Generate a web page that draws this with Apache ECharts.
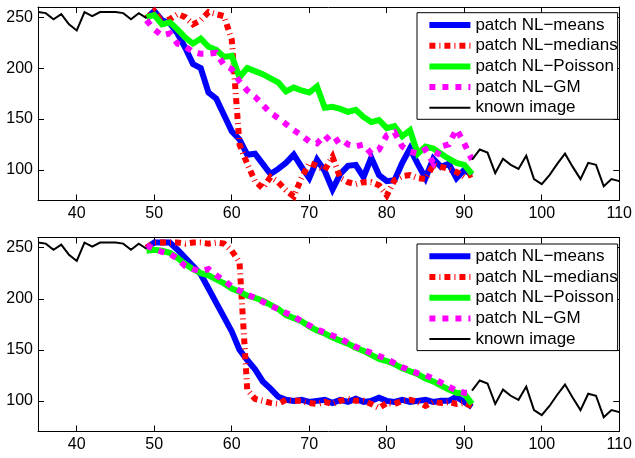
<!DOCTYPE html>
<html><head><meta charset="utf-8">
<script src="https://cdn.jsdelivr.net/npm/echarts@6/dist/echarts.min.js"></script>
<style>html,body{margin:0;padding:0;background:#fff}#c{width:635px;height:458px}</style>
</head><body><div id="c"></div>
<script>
// ---------- data ----------
const xMethods = [49,50,51,52,53,54,55,56,57,58,59,60,61,62,63,64,65,66,67,68,69,70,71,72,73,74,75,76,77,78,79,80,81,82,83,84,85,86,87,88,89,90,91];

const meansTop    = [249,256,247,244,234,220,204,200,176,170,154,138,130,115,116,106,96,101,107,115,103,92,110,99,81,96,104,105,93,112,95,89,90,107,121,106,92,111,103,106,92,100,95];
const mediansTop  = [249,256,245,248,253,250,243,247,255,253,251,228,125,106,89,82,93,88,80,74,92,107,104,100,113,92,88,86,88,88,85,75,90,94,95,92,91,105,103,101,98,93,96];
const poissonTop  = [250,252,243,245,238,230,224,229,221,218,211,212,191,200,197,194,190,186,177,181,178,176,182,161,162,160,157,159,152,147,149,141,143,133,139,116,123,121,116,111,107,105,96];
const gmTop       = [247,238,232,234,224,221,216,214,214,215,203,199,187,178,172,164,156,151,145,139,134,128,126,134,126,131,125,123,125,116,120,134,137,123,118,116,120,107,123,125,140,126,110];

const meansBot    = [250,255,255,255,248,240,232,224,210,196,182,168,150,140,131,119,112,104,101,100,101,99,100,101,98,101,99,102,99,100,103,100,99,101,99,100,101,99,100,100,104,99,94];
const mediansBot  = [250,255,255,255,255,254,255,255,254,255,254,247,236,111,102,100,98,97,101,100,100,98,97,99,97,100,102,100,100,97,93,98,97,100,101,99,95,99,98,99,97,98,95];
const poissonBot  = [247,248,247,245,240,234,229,225,223,219,215,210,207,203,201,198,194,190,184,181,178,173,169,166,162,159,156,152,149,145,141,139,136,132,129,126,122,119,115,111,108,107,97];
const gmBot       = [252,249,246,244,239,232,229,227,229,223,218,212,208,204,201,197,193,190,186,183,178,174,170,167,164,161,157,153,150,147,144,141,137,133,130,127,125,122,118,114,110,108,108];

const knownLeftX  = [35,36,37,38,39,40,41,42,43,44,45,46,47,48,49];
const knownLeftY  = [255,254,248,253,243,237,255,251,255,255,255,254,248,254,249];
const knownRightX = [91,92,93,94,95,96,97,98,99,100,101,102,103,104,105,106,107,108,109,110];
const knownRightY = [110,120,117,97,111,105,101,114,91,86,95,106,116,103,91,107,105,84,91,89];

const xTicks = [40,50,60,70,80,90,100,110];
const yTicks = [100,150,200,250];
const seriesNames = ['patch NL\u2212means','patch NL\u2212medians','patch NL\u2212Poisson','patch NL\u2212GM','known image'];

// ---------- chart ----------
const F = '"Liberation Sans", Arial, Helvetica, sans-serif';
const pair = (xs, ys) => xs.map((x, i) => [x, ys[i]]);

const styles = [
  {color:'#0000ff', width:6, type:'solid'},
  {color:'#ff0000', width:6, type:[6,4,1,4]},
  {color:'#00ff00', width:6, type:'solid'},
  {color:'#ff00ff', width:6, type:[6,7]},
  {color:'#000000', width:2, type:'solid'}
];

function xAx(gi, pos, labels) {
  return {type:'value', gridIndex:gi, position:pos, min:35, max:110,
    axisLine:{show:true, onZero:false, lineStyle:{color:'#000', width:1}},
    axisTick:{show:true, inside:true, length:6, customValues:xTicks, lineStyle:{color:'#000'}},
    axisLabel:{show:labels, customValues:xTicks, margin:5, color:'#000', fontSize:16, fontFamily:F},
    splitLine:{show:false}};
}
function yAx(gi, pos, labels) {
  return {type:'value', gridIndex:gi, position:pos, min:70, max:260,
    axisLine:{show:true, onZero:false, lineStyle:{color:'#000', width:1}},
    axisTick:{show:true, inside:true, length:6, customValues:yTicks, lineStyle:{color:'#000'}},
    axisLabel:{show:labels, customValues:yTicks, margin:5, color:'#000', fontSize:16, fontFamily:F},
    splitLine:{show:false}};
}

function mk(name, data, st, xi, yi) {
  return {type:'line', name, data, xAxisIndex:xi, yAxisIndex:yi, symbol:'none', silent:true,
    lineStyle:{color:st.color, width:st.width, type:st.type, cap:'butt', join:'miter'},
    itemStyle:{color:st.color}, emphasis:{disabled:true}};
}

const panels = [
  [meansTop, mediansTop, poissonTop, gmTop],
  [meansBot, mediansBot, poissonBot, gmBot]
];
const series = [];
panels.forEach((p, gi) => {
  const xi = gi*2, yi = gi*2;
  p.forEach((vals, k) => series.push(mk(seriesNames[k], pair(xMethods, vals), styles[k], xi, yi)));
  series.push(mk(seriesNames[4], pair(knownLeftX, knownLeftY), styles[4], xi, yi));
  series.push(mk(seriesNames[4], pair(knownRightX, knownRightY), styles[4], xi, yi));
});

function legend(top) {
  return {show:true, orient:'vertical', left:417, top:top,
    data: seriesNames.map((n, k) => ({name:n,
      itemStyle:{opacity:0, borderWidth:0},
      lineStyle:{color:styles[k].color, width:styles[k].width, type:styles[k].type, opacity:1, cap:'butt'}})),
    itemWidth:41, itemHeight:17, itemGap:3.7, selectedMode:false,
    padding:[3.8,0,3,9.4], backgroundColor:'#fff', borderColor:'#000', borderWidth:1, borderRadius:0,
    textStyle:{color:'#000', fontSize:17, fontFamily:F, lineHeight:17}};
}

const chart = echarts.init(document.getElementById('c'), null, {renderer:'canvas'});
chart.setOption({
  animation:false,
  backgroundColor:'#fff',
  grid:[
    {left:38, top:7, width:583, height:193.5},
    {left:38, top:237.5, width:583, height:194}
  ],
  xAxis:[xAx(0,'bottom',true), xAx(0,'top',false), xAx(1,'bottom',true), xAx(1,'top',false)],
  yAxis:[yAx(0,'left',true), yAx(0,'right',false), yAx(1,'left',true), yAx(1,'right',false)],
  legend:[legend(12.7), legend(244)],
  series
});
</script></body></html>
